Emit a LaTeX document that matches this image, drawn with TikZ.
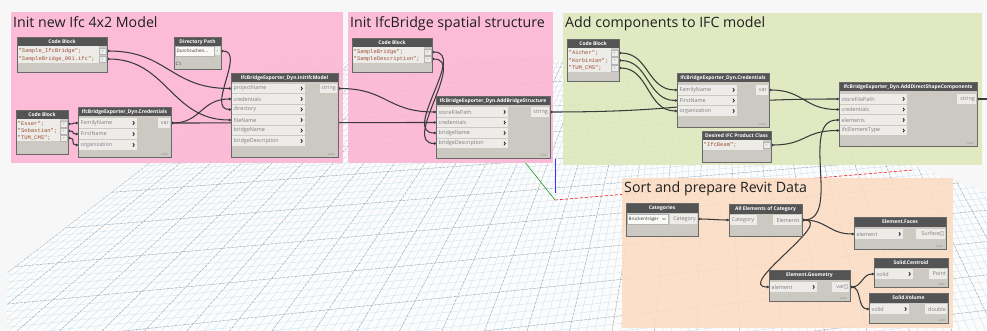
\documentclass[tikz,border=0pt]{standalone}
\usepackage{fontspec}
\setmainfont{Open Sans}
\newfontfamily\monof{Liberation Mono}
\usetikzlibrary{calc,arrows.meta}
\pgfdeclarelayer{bg}
\pgfdeclarelayer{wires}
\pgfsetlayers{bg,wires,main}
\definecolor{bgc}{RGB}{247,247,247}
\definecolor{gpink}{RGB}{253,182,212}
\definecolor{ggreen}{RGB}{222,232,188}
\definecolor{gorange}{RGB}{252,220,194}
\definecolor{nbody}{RGB}{204,200,194}
\definecolor{nhead}{RGB}{84,84,84}
\definecolor{nedge}{RGB}{105,105,105}
\definecolor{ncell}{RGB}{237,236,233}
\definecolor{nlabel}{RGB}{125,125,125}
\definecolor{codec}{RGB}{158,82,52}
\definecolor{wirec}{RGB}{58,58,58}
\definecolor{gminorc}{RGB}{205,224,236}
\definecolor{gmajorc}{RGB}{160,168,176}
\tikzset{
 dynframe/.style={fill=nbody, inner sep=0, outer sep=0},
 headtxt/.style={font=\bfseries\fontsize{5}{6}\selectfont, text=white, inner sep=0},
 portlbl/.style={font=\fontsize{5.4}{6}\selectfont, text=nlabel, inner sep=0},
 codetxt/.style={font=\monof\fontsize{5.5}{7}\selectfont, text=codec, inner sep=0},
 smalltxt/.style={font=\fontsize{4.5}{5}\selectfont, text=black!80, inner sep=0},
 autotxt/.style={font=\fontsize{2.4}{3}\selectfont, text=nlabel, inner sep=0},
 grouptitle/.style={font=\fontsize{14.2}{17}\selectfont, text=black!88, anchor=base west, inner sep=0},
 chev/.style={draw=black!85, line width=0.75pt},
 wire/.style={draw=wirec, line width=1.05pt, {Circle[length=2.4pt]}-{Circle[length=2.4pt]}},
 gminor/.style={draw=gminorc, line width=0.35pt},
 gmajor/.style={draw=gmajorc, line width=0.4pt, dash pattern=on 2.5pt off 1.5pt},
}
% name, x1, y1, x2, y2, title
\newcommand{\dynnode}[6]{%
  \node[dynframe, minimum width={#4-#2}, minimum height={#5-#3}, anchor=north west] (#1) at (#2,#3) {};
  \fill[nhead] (#2,#3) rectangle (#4,#3+9.5);
  \draw[nedge, line width=0.5pt] (#2,#3) rectangle (#4,#5);
  \node[headtxt] (#1-title) at ({(#2+#4)/2},#3+4.9) {#6};
}
% node, port, x1, xl, y, label
\newcommand{\inport}[6]{%
  \fill[ncell] (#3+1,#5-4.8) rectangle (#4,#5+4.8);
  \node[portlbl, anchor=west] (#1-#2-l) at (#3+2.5,#5) {#6};
  \draw[chev] (#4-4.2,#5-1.8) -- (#4-2.6,#5) -- (#4-4.2,#5+1.8);
  \coordinate (#1-#2) at (#3,#5);
}
\newcommand{\inportnc}[6]{%
  \fill[ncell] (#3+1,#5-4.8) rectangle (#4,#5+4.8);
  \node[portlbl, anchor=west] (#1-#2-l) at (#3+2.5,#5) {#6};
  \coordinate (#1-#2) at (#3,#5);
}
% node, port, xo, x2, y, label
\newcommand{\outport}[6]{%
  \fill[ncell] (#3,#5-4.8) rectangle (#4-1,#5+4.8);
  \node[portlbl, anchor=east] (#1-#2-l) at (#4-2,#5) {#6};
  \coordinate (#1-#2) at (#4,#5);
}
% node, port, x1, x2, y, text
\newcommand{\codeline}[6]{%
  \node[codetxt, anchor=west] (#1-#2-t) at (#3+1.5,#5) {#6};
  \fill[ncell] (#4-7.5,#5-3.3) rectangle (#4-1,#5+3.3);
  \draw[nedge!50, line width=0.3pt] (#4-7.5,#5-3.3) rectangle (#4-1,#5+3.3);
  \node[font=\fontsize{3.6}{4}\selectfont, text=nlabel, inner sep=0] (#1-#2-g) at (#4-4.25,#5) {>};
  \coordinate (#1-#2) at (#4,#5);
}
% x1 ytop x2 ybot
\newcommand{\codebg}[4]{\fill[ncell] (#1+1,#2) rectangle (#3-8.5,#4);}
% name x2 y2
\newcommand{\autotag}[3]{\node[autotxt, anchor=south east] (#1-auto) at (#2-3,#3-1.5) {AUTO};}
\newcommand{\wireto}[3]{\draw[wire] (#1) .. controls ($(#1)+(#3,0)$) and ($(#2)-(#3,0)$) .. (#2);}

\begin{document}
\begin{tikzpicture}[x=1pt,y=-1pt]
\useasboundingbox (0,0) rectangle (987,331);
\begin{pgfonlayer}{bg}
\fill[bgc] (0,0) rectangle (987,331);
% perspective floor grid
\begin{scope}
\clip (7,331) -- (7,273) -- (283,60) -- (629,60) -- (987,193) -- (987,331) -- cycle;
\fill[white!60!bgc] (0,40) rectangle (987,331);
\foreach \k in {0,...,135}{
  \pgfmathsetmacro\xb{-68+8.5*\k}
  \pgfmathsetmacro\xt{712+0.55*(\xb-712)}
  \draw[gminor] (\xb,331) -- (\xt,60);
}
\foreach \j in {-15,...,36}{
  \pgfmathsetmacro\yz{-330+500*exp(\j*0.011929)}
  \pgfmathsetmacro\ye{\yz+1000*(-0.085-0.0002*(\yz-250))}
  \draw[gminor] (0,\yz) -- (1000,\ye);
}
\foreach \k in {0,5,...,135}{
  \pgfmathsetmacro\xb{-68+8.5*\k}
  \pgfmathsetmacro\xt{712+0.55*(\xb-712)}
  \draw[gmajor] (\xb,331) -- (\xt,60);
}
\foreach \j in {-15,-10,...,35}{
  \pgfmathsetmacro\yz{-330+500*exp(\j*0.011929)}
  \pgfmathsetmacro\ye{\yz+1000*(-0.085-0.0002*(\yz-250))}
  \draw[gmajor] (0,\yz) -- (1000,\ye);
}
\end{scope}
% axes
\draw[red!80, line width=0.7pt, dash pattern=on 3pt off 2pt] (555,200) -- (913,170);
\draw[green!55!black, line width=0.5pt] (555,200) -- (524,161);
\draw[blue!80, line width=1pt] (555.5,159) -- (555.5,193);
% groups
\fill[gpink, fill opacity=0.9] (11,12) rectangle (343,163);
\fill[gpink, fill opacity=0.9] (348,12) rectangle (553,163);
\fill[ggreen, fill opacity=0.9] (563,13) rectangle (982,165);
\fill[gorange, fill opacity=0.88] (622,178) rectangle (953,328);
\end{pgfonlayer}
\node[grouptitle] (g1-title) at (13,27.5) {Init new Ifc 4x2 Model};
\node[grouptitle] (g2-title) at (350,27.5) {Init IfcBridge spatial structure};
\node[grouptitle] (g3-title) at (565,27.5) {Add components to IFC model};
\node[grouptitle] (g4-title) at (624,192.5) {Sort and prepare Revit Data};

% ---------- group 1 ----------
\dynnode{cb1}{17}{37}{107}{72}{Code Block}
\codebg{17}{46.5}{107}{63}
\codeline{cb1}{o1}{17}{107}{51}{"Sample\_IfcBridge";}
\codeline{cb1}{o2}{17}{107}{59}{"SampleBridge\_001.ifc";}

\dynnode{dir}{174}{37}{221}{69}{Directory Path}
\fill[white!70!ncell] (175.5,46.5) rectangle (214,56);
\draw[nedge!50, line width=0.3pt] (175.5,46.5) rectangle (214,56);
\node[smalltxt, anchor=west] (dir-btn) at (176.5,51.3) {Durchsuchen...};
\fill[ncell] (215,47.5) rectangle (220,55);
\node[font=\fontsize{3.6}{4}\selectfont, text=nlabel, inner sep=0] (dir-g) at (217.5,51.2) {>};
\coordinate (dir-o) at (221,51);
\node[smalltxt, anchor=west] (dir-path) at (175.5,63.5) {C:\textbackslash};

\dynnode{cb2}{16}{110}{68}{154}{Code Block}
\codebg{16}{119.5}{68}{141.5}
\codeline{cb2}{o1}{16}{68}{124}{"Esser";}
\codeline{cb2}{o2}{16}{68}{131}{"Sebastian";}
\codeline{cb2}{o3}{16}{68}{138}{"TUM\_CMS";}

\dynnode{cred1}{78}{107}{171}{157}{IfcBridgeExporter\_Dyn.Credentials}
\inport{cred1}{FamilyName}{78}{137}{123}{FamilyName}
\inport{cred1}{FirstName}{78}{137}{134}{FirstName}
\inport{cred1}{organization}{78}{137}{145}{organization}
\outport{cred1}{var}{158}{171}{123}{var}
\autotag{cred1}{171}{157}

\dynnode{init}{231}{73}{338}{157}{IfcBridgeExporter\_Dyn.InitIfcModel}
\inport{init}{projectName}{231}{305}{88.5}{projectName}
\inport{init}{credentials}{231}{305}{99}{credentials}
\inport{init}{directory}{231}{305}{109.5}{directory}
\inport{init}{fileName}{231}{305}{120}{fileName}
\inport{init}{bridgeName}{231}{305}{130.5}{bridgeName}
\inport{init}{bridgeDescription}{231}{305}{141}{bridgeDescription}
\outport{init}{string}{320}{338}{88.5}{string}
\autotag{init}{338}{157}

% ---------- group 2 ----------
\dynnode{cb3}{352}{38}{432}{72}{Code Block}
\codebg{352}{47.5}{432}{63}
\codeline{cb3}{o1}{352}{432}{52}{"SampleBridge";}
\codeline{cb3}{o2}{352}{432}{59}{"SampleDescription";}

\dynnode{abs}{436}{96}{550}{158}{IfcBridgeExporter\_Dyn.AddBridgeStructure}
\inport{abs}{storeFilePath}{436}{508}{112}{storeFilePath}
\inport{abs}{credentials}{436}{508}{122.5}{credentials}
\inport{abs}{bridgeName}{436}{508}{133}{bridgeName}
\inport{abs}{bridgeDescription}{436}{508}{143.5}{bridgeDescription}
\outport{abs}{string}{531}{550}{112}{string}
\autotag{abs}{550}{158}

% ---------- group 3 ----------
\dynnode{cb4}{567}{39}{619}{81}{Code Block}
\codebg{567}{48.5}{619}{72}
\codeline{cb4}{o1}{567}{619}{53}{"Aicher";}
\codeline{cb4}{o2}{567}{619}{60.5}{"Korbinian";}
\codeline{cb4}{o3}{567}{619}{68}{"TUM\_CMS";}

\dynnode{cred2}{677}{73}{769}{127}{IfcBridgeExporter\_Dyn.Credentials}
\inport{cred2}{FamilyName}{677}{737}{90}{FamilyName}
\inport{cred2}{FirstName}{677}{737}{100.5}{FirstName}
\inport{cred2}{organization}{677}{737}{111}{organization}
\outport{cred2}{var}{756}{769}{90}{var}
\autotag{cred2}{769}{127}

\dynnode{ifccls}{702}{131}{771}{162}{Desired IFC Product Class}
\codebg{702}{140.5}{771}{150}
\codeline{ifccls}{o}{702}{771}{145}{"IfcBeam";}

\dynnode{ads}{839}{82}{977}{146}{IfcBridgeExporter\_Dyn.AddDirectShapeComponents}
\inport{ads}{storeFilePath}{839}{907}{99}{storeFilePath}
\inport{ads}{credentials}{839}{907}{109.5}{credentials}
\inport{ads}{elements}{839}{907}{120}{elements}
\inport{ads}{ifcElementType}{839}{907}{130.5}{ifcElementType}
\outport{ads}{string}{957}{977}{99}{string}
\autotag{ads}{977}{146}
\coordinate (offright) at (987,99);

% ---------- group 4 ----------
\dynnode{cat}{626}{203}{698}{236}{Categories}
\fill[white!75!ncell] (627,214) rectangle (668,224);
\draw[nedge!50, line width=0.3pt] (627,214) rectangle (668,224);
\node[smalltxt, anchor=west] (cat-dd) at (628.5,219) {Brückenträger};
\draw[black!70, line width=0.4pt] (662.5,218) -- (664,219.6) -- (665.5,218);
\outport{cat}{out}{670}{698}{219}{Category}

\dynnode{allel}{729}{204}{802}{236}{All Elements of Category}
\inportnc{allel}{in}{729}{757}{220}{Category}
\outport{allel}{out}{773}{802}{220}{Elements}

\dynnode{faces}{854}{217}{946}{249}{Element.Faces}
\inport{faces}{element}{854}{903}{234}{element}
\outport{faces}{out}{916}{946}{234}{Surface[]}
\autotag{faces}{946}{249}

\dynnode{cent}{874}{258}{948}{287}{Solid.Centroid}
\inport{cent}{solid}{874}{913}{274}{solid}
\outport{cent}{out}{929}{948}{274}{Point}
\autotag{cent}{948}{287}

\dynnode{geom}{769}{270}{850}{301}{Element.Geometry}
\inport{geom}{element}{769}{817}{287}{element}
\outport{geom}{out}{832}{850}{287}{var[]}
\autotag{geom}{850}{301}

\dynnode{vol}{869}{293}{948}{323}{Solid.Volume}
\inport{vol}{solid}{869}{909}{309}{solid}
\outport{vol}{out}{925}{948}{309}{double}
\autotag{vol}{948}{323}

% ---------- wires ----------
\begin{pgfonlayer}{wires}
\wireto{cb1-o1}{init-projectName}{60}
\wireto{cb1-o2}{init-fileName}{60}
\wireto{dir-o}{init-directory}{25}
\wireto{cred1-var}{init-credentials}{30}
\wireto{cred1-var}{abs-credentials}{60}
\wireto{cb2-o1}{cred1-FamilyName}{8}
\wireto{cb2-o2}{cred1-FirstName}{8}
\wireto{cb2-o3}{cred1-organization}{8}
\wireto{init-string}{abs-storeFilePath}{49}
\wireto{cb3-o1}{abs-bridgeName}{35}
\wireto{cb3-o2}{abs-bridgeDescription}{35}
\wireto{abs-string}{ads-storeFilePath}{145}
\wireto{cb4-o1}{cred2-FamilyName}{30}
\wireto{cb4-o2}{cred2-FirstName}{30}
\wireto{cb4-o3}{cred2-organization}{30}
\wireto{cred2-var}{ads-credentials}{35}
\wireto{ifccls-o}{ads-ifcElementType}{35}
\wireto{allel-out}{ads-elements}{40}
\wireto{cat-out}{allel-in}{12}
\wireto{allel-out}{faces-element}{25}
\wireto{allel-out}{geom-element}{35}
\wireto{geom-out}{cent-solid}{12}
\wireto{geom-out}{vol-solid}{12}
\draw[draw=wirec, line width=1.05pt, {Circle[length=2.4pt]}-] (ads-string) -- (offright);
\end{pgfonlayer}
\end{tikzpicture}
\end{document}
